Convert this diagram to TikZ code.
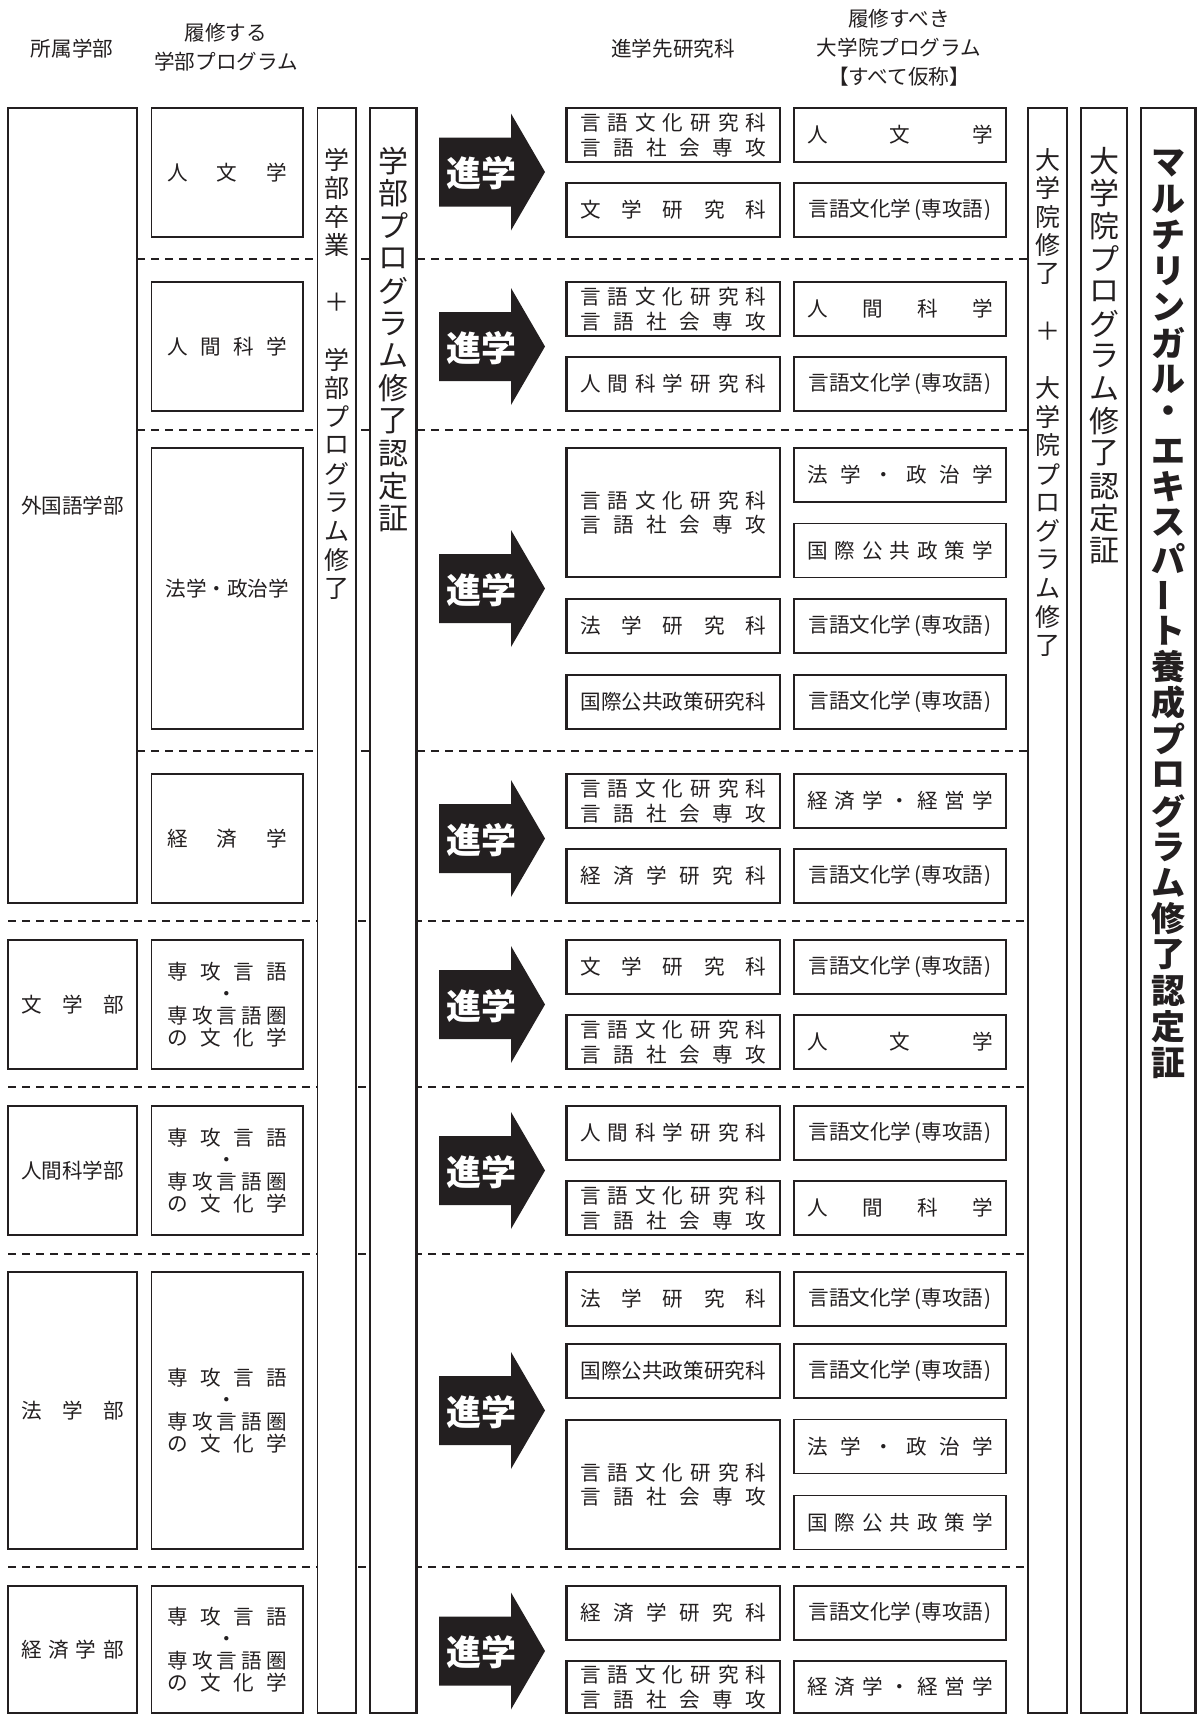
\documentclass[tikz,border=0pt]{standalone}
\usepackage{fontspec}
\setmainfont{Noto Sans CJK JP}
\IfFontExistsTF{Noto Sans CJK JP Black}
  {\newfontfamily\advfam{Noto Sans CJK JP Black}}
  {\newfontfamily\advfam{Noto Sans CJK JP}[UprightFeatures={FakeBold=2}]}
\usepackage{graphicx}
\usepackage{tikz}
\usetikzlibrary{positioning}
\definecolor{ink}{RGB}{35,31,32}
\newcommand{\boxfont}{\fontsize{10.3}{12.25}\selectfont}
\newcommand{\listfont}{\fontsize{10.3}{11.1}\selectfont}
\newcommand{\hdrfont}{\fontsize{10.3}{14.4}\selectfont}
\newcommand{\vfonta}{\fontsize{12.5}{12.5}\selectfont}
\newcommand{\vfontb}{\fontsize{15}{15}\selectfont}
\newcommand{\vfontc}{\fontsize{17}{17}\selectfont\bfseries}
\newcommand{\advfont}{\fontsize{17.5}{17.5}\selectfont\advfam}
\newcommand{\spr}[2]{\makebox[#1][s]{\spaceskip=0pt plus 1fil\relax #2}}
\newcommand{\chov}{\rotatebox[origin=c]{90}{ー}}
\newcommand{\gsc}{\spr{93pt}{言 語 文 化 研 究 科}\\\spr{93pt}{言 語 社 会 専 攻}}
\newcommand{\lcs}{言語文化学\kern1.6pt(専攻語\kern0.6pt)}
\newcommand{\slc}{\spr{60pt}{専 攻 言 語}\\・\\\spr{60pt}{専 攻 言 語 圏}\\\spr{60pt}{の 文 化 学}}
\tikzstyle{thickbox}=[rectangle, draw=ink, line width=1.4pt, inner sep=0pt, align=center, text=ink, font=\boxfont]
\tikzstyle{thinbox}=[rectangle, draw=ink, line width=0.7pt, inner sep=0pt, align=center, text=ink, font=\boxfont]
\tikzstyle{fac}=[thickbox, minimum width=64.5pt]
\tikzstyle{prog}=[thinbox, minimum width=75.75pt]
\tikzstyle{grad}=[thickbox, minimum width=106.75pt, minimum height=27pt]
\tikzstyle{gprog}=[thinbox, minimum width=106pt, minimum height=27pt]
\tikzstyle{thinstrip}=[rectangle, draw=ink, fill=white, line width=0.7pt, inner sep=0pt, minimum height=802.5pt]
\tikzstyle{thickstrip}=[rectangle, draw=ink, fill=white, line width=1.4pt, inner sep=0pt, minimum height=802.5pt]
\tikzstyle{sepline}=[draw=ink, line width=0.6pt, dash pattern=on 4.2pt off 2.8pt]
\tikzstyle{hdr}=[inner sep=0pt, align=center, text=ink, font=\hdrfont]
\tikzstyle{vch}=[inner sep=0pt, text=ink]
\tikzstyle{advtext}=[inner sep=0pt, text=white, font=\advfont]

\begin{document}
\begin{tikzpicture}[x=0.5pt,y=-0.5pt]
  \useasboundingbox (0,0) rectangle (1198,1715);
  % headings
  \node[hdr] (hfac) at (72,48.3) {所属学部};
  \node[hdr] (hprog) at (226,47.5) {履修する\\学部プログラム};
  \node[hdr] (hgrad) at (673,48.3) {進学先研究科};
  \node[hdr] (hgprog) at (899,47.5) {履修すべき\\大学院プログラム\\【すべて仮称】};
  % separators
  \foreach \y in {259,430,751}
    \draw[sepline] (137,\y) -- (1028,\y);
  \foreach \y in {921,1087,1254,1567}
    \draw[sepline] (8,\y) -- (1028,\y);
  % faculties
  \node[fac, minimum height=397.5pt] (fgn) at (72.5,505.5) {外国語学部};
  \node[fac, minimum height=64.5pt] (lit) at (72.5,1004.5) {\spr{51.5pt}{文 学 部}};
  \node[fac, minimum height=64.5pt] (hum) at (72.5,1170.5) {人間科学部};
  \node[fac, minimum height=138.5pt] (law) at (72.5,1410.5) {\spr{51.5pt}{法 学 部}};
  \node[fac, minimum height=63.5pt] (eco) at (72.5,1649.5) {\spr{51.5pt}{経 済 学 部}};
  % undergraduate programmes
  \node[prog, minimum height=64.5pt] (p1) at (227.25,172.5) {\spr{60pt}{人 文 学}};
  \node[prog, minimum height=64.5pt] (p2) at (227.25,346.5) {\spr{60pt}{人 間 科 学}};
  \node[prog, minimum height=140.5pt] (p3) at (227.25,588.5) {法学・政治学};
  \node[prog, minimum height=64.5pt] (p4) at (227.25,838.5) {\spr{60pt}{経 済 学}};
  \node[prog, minimum height=64.5pt, font=\listfont] (p5) at (227.25,1004.5) {\slc};
  \node[prog, minimum height=64.5pt, font=\listfont] (p6) at (227.25,1170.5) {\slc};
  \node[prog, minimum height=138.5pt, font=\listfont] (p7) at (227.25,1410.5) {\slc};
  \node[prog, minimum height=63.5pt, font=\listfont] (p8) at (227.25,1649.5) {\slc};
  % vertical strips
  \node[thinstrip, minimum width=19.25pt] (ugrad) at (336.75,910.5) {};
  \node[thickstrip, minimum width=23.25pt] (ucert) at (393.25,910.5) {};
  \node[thinstrip, minimum width=19.5pt] (ggrad) at (1047.5,910.5) {};
  \node[thickstrip, minimum width=23pt] (gcert) at (1104,910.5) {};
  \node[thickstrip, minimum width=27.25pt] (mcert) at (1168.25,910.5) {};
  \foreach \c [count=\i from 0] in {学,部,卒,業,{},＋,{},学,部,プ,ロ,グ,ラ,ム,修,了}
    \node[vch, font=\vfonta] (ug\i) at (336.75,159.5+\i*28.6) {\c};
  \foreach \c [count=\i from 0] in {学,部,プ,ロ,グ,ラ,ム,修,了,認,定,証}
    \node[vch, font=\vfontb] (uc\i) at (393.25,161+\i*32.5) {\c};
  \foreach \c [count=\i from 0] in {大,学,院,修,了,{},＋,{},大,学,院,プ,ロ,グ,ラ,ム,修,了}
    \node[vch, font=\vfonta] (gg\i) at (1047.5,159.5+\i*28.6) {\c};
  \foreach \c [count=\i from 0] in {大,学,院,プ,ロ,グ,ラ,ム,修,了,認,定,証}
    \node[vch, font=\vfontb] (gc\i) at (1104,161+\i*32.5) {\c};
  \foreach \c [count=\i from 0] in {マ,ル,チ,リ,ン,ガ,ル,・,エ,キ,ス,パ,\chov,ト,養,成,プ,ロ,グ,ラ,ム,修,了,認,定,証}
    \node[vch, font=\vfontc] (mc\i) at (1168.25,163+\i*36) {\c};
  % advance arrows
  \foreach \yc/\n in {172/1,346.5/2,588.5/3,838.5/4,1004.5/5,1170.5/6,1410.5/7,1651/8} {
    \fill[ink, shift={(0,\yc)}] (439,-34.5) -- (511,-34.5) -- (511,-58.5) -- (545,0)
      -- (511,58.5) -- (511,34.5) -- (439,34.5) -- cycle;
    \node[advtext] (adv\n) at (481,\yc+1.5) {進学};
  }
  % graduate schools and programmes
  \node[grad] (gs1a) at (673.25,135) {\gsc};
  \node[grad] (gs1b) at (673.25,210) {\spr{93pt}{文 学 研 究 科}};
  \node[gprog] (gp1a) at (900,135) {\spr{93pt}{人 文 学}};
  \node[gprog] (gp1b) at (900,210) {\lcs};
  \node[grad] (gs2a) at (673.25,309) {\gsc};
  \node[grad] (gs2b) at (673.25,384) {\spr{93pt}{人 間 科 学 研 究 科}};
  \node[gprog] (gp2a) at (900,309) {\spr{93pt}{人 間 科 学}};
  \node[gprog] (gp2b) at (900,384) {\lcs};
  \node[grad, minimum height=64.5pt] (gs3a) at (673.25,512.5) {\gsc};
  \node[grad] (gs3b) at (673.25,626) {\spr{93pt}{法 学 研 究 科}};
  \node[grad] (gs3c) at (673.25,702) {国際公共政策研究科};
  \node[gprog] (gp3a) at (900,475) {\spr{93pt}{法 学 ・ 政 治 学}};
  \node[gprog] (gp3b) at (900,550.5) {\spr{93pt}{国 際 公 共 政 策 学}};
  \node[gprog] (gp3c) at (900,626) {\lcs};
  \node[gprog] (gp3d) at (900,702) {\lcs};
  \node[grad] (gs4a) at (673.25,801) {\gsc};
  \node[grad] (gs4b) at (673.25,876) {\spr{93pt}{経 済 学 研 究 科}};
  \node[gprog] (gp4a) at (900,801) {\spr{93pt}{経 済 学 ・ 経 営 学}};
  \node[gprog] (gp4b) at (900,876) {\lcs};
  \node[grad] (gs5a) at (673.25,967) {\spr{93pt}{文 学 研 究 科}};
  \node[grad] (gs5b) at (673.25,1042) {\gsc};
  \node[gprog] (gp5a) at (900,967) {\lcs};
  \node[gprog] (gp5b) at (900,1042) {\spr{93pt}{人 文 学}};
  \node[grad] (gs6a) at (673.25,1133) {\spr{93pt}{人 間 科 学 研 究 科}};
  \node[grad] (gs6b) at (673.25,1208) {\gsc};
  \node[gprog] (gp6a) at (900,1133) {\lcs};
  \node[gprog] (gp6b) at (900,1208) {\spr{93pt}{人 間 科 学}};
  \node[grad] (gs7a) at (673.25,1299) {\spr{93pt}{法 学 研 究 科}};
  \node[grad] (gs7b) at (673.25,1371) {国際公共政策研究科};
  \node[grad, minimum height=64.5pt] (gs7c) at (673.25,1484.5) {\gsc};
  \node[gprog] (gp7a) at (900,1299) {\lcs};
  \node[gprog] (gp7b) at (900,1371) {\lcs};
  \node[gprog] (gp7c) at (900,1446.5) {\spr{93pt}{法 学 ・ 政 治 学}};
  \node[gprog] (gp7d) at (900,1522.5) {\spr{93pt}{国 際 公 共 政 策 学}};
  \node[grad] (gs8a) at (673.25,1613) {\spr{93pt}{経 済 学 研 究 科}};
  \node[grad, minimum height=26pt] (gs8b) at (673.25,1687) {\gsc};
  \node[gprog] (gp8a) at (900,1613) {\lcs};
  \node[gprog, minimum height=26pt] (gp8b) at (900,1687) {\spr{93pt}{経 済 学 ・ 経 営 学}};
\end{tikzpicture}
\end{document}
